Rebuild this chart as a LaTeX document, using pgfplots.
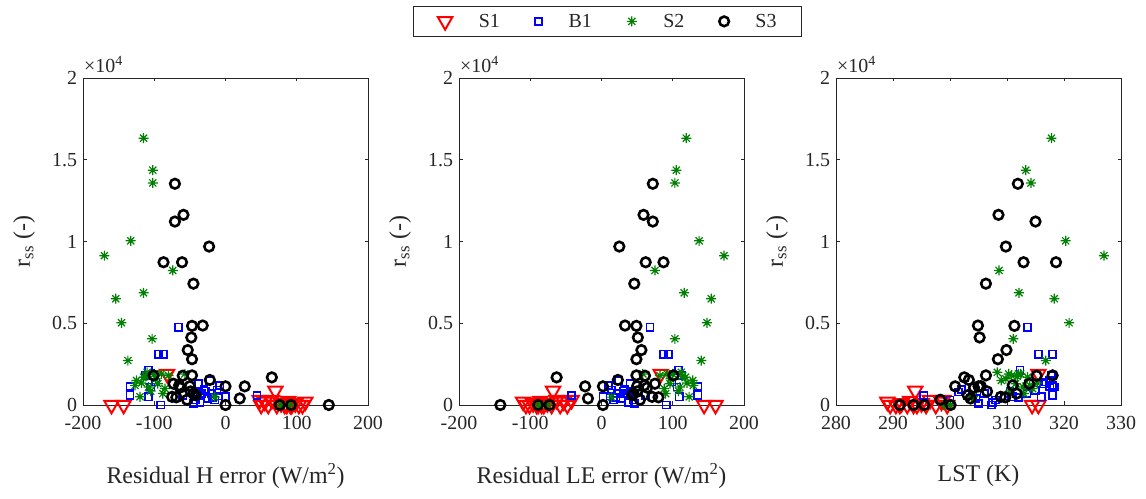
\documentclass[border=0pt]{standalone}
\usepackage{pgfplots}
\pgfplotsset{compat=1.18}
\usepackage{pgfplotstable}
\usepackage{fontspec}
\setmainfont{Liberation Serif}
\definecolor{axgray}{RGB}{38,38,38}
\definecolor{mgreen}{RGB}{0,128,0}

\pgfdeclareplotmark{mstar}{%
  \pgfpathmoveto{\pgfqpoint{-\pgfplotmarksize}{0pt}}\pgfpathlineto{\pgfqpoint{\pgfplotmarksize}{0pt}}%
  \pgfpathmoveto{\pgfqpoint{0pt}{-\pgfplotmarksize}}\pgfpathlineto{\pgfqpoint{0pt}{\pgfplotmarksize}}%
  \pgfpathmoveto{\pgfqpoint{-0.7071\pgfplotmarksize}{-0.7071\pgfplotmarksize}}\pgfpathlineto{\pgfqpoint{0.7071\pgfplotmarksize}{0.7071\pgfplotmarksize}}%
  \pgfpathmoveto{\pgfqpoint{-0.7071\pgfplotmarksize}{0.7071\pgfplotmarksize}}\pgfpathlineto{\pgfqpoint{0.7071\pgfplotmarksize}{-0.7071\pgfplotmarksize}}%
  \pgfusepathqstroke}

% columns: H error, LE error, LST, r_ss
\pgfplotstableread{
H LE LST rss
-160 144 314.4 0
-143 160 315.5 0
-82 83 315.5 1900
70 -68 293.9 870
50 -48 299.5 0
55 -53 298.5 200
60 -58 297.5 0
65 -63 296.5 300
72 -70 295.8 0
78 -76 295.0 100
83 -81 294.2 0
88 -86 293.0 250
93 -91 292.5 0
98 -96 291.5 100
103 -101 290.5 0
108 -106 289.5 0
112 -110 289.0 200
86 -84 291.2 0
91 -89 293.6 0
48 -42 298.8 300
}\tSone

\pgfplotstableread{
H LE LST rss
-66 68 313.6 4760
-94 87 315.5 3100
-87 94 318.0 3100
-108 108 312.3 2120
-134 135 317.5 1130
-134 135 318.0 600
-108 109 316.0 500
-91 91 307.3 0
44 -42 295.4 580
-40 42 301.5 800
-35 37 303.0 600
-30 32 302.0 950
-25 27 304.5 400
-20 22 306.0 700
-15 17 308.0 300
-10 12 309.5 550
-42 44 300.0 300
-28 30 310.5 850
-18 20 312.0 450
-33 35 313.5 700
-12 14 315.0 900
-38 40 316.5 1300
-22 24 317.5 1500
-8 10 318.0 1200
-112 113 317.8 1800
-98 99 316.8 1400
-105 106 318.3 1100
-45 46 305.0 100
-36 38 307.5 150
0 2 311.0 500
-60 62 304.0 600
}\tBone

\pgfplotstableread{
H LE LST rss
-115 119 317.8 16320
-102 105 313.3 14360
-102 103 314.2 13580
-133 137 320.3 10040
-170 172 327.0 9130
-74 75 308.6 8230
-115 116 312.1 6860
-154 154 318.3 6500
-146 148 320.9 5030
-103 103 311.1 4050
-137 140 316.8 2720
-120 123 304.0 500
-15 14 303.8 480
-57 58 312.0 1900
-110 112 308.3 2000
-100 100 310.3 1900
-90 92 312.4 1900
-115 118 313.6 1700
-105 108 310.5 850
-95 96 311.5 1300
-125 128 309.0 1500
-85 88 314.5 1000
-108 110 312.8 1100
-118 120 315.3 1350
-98 97 309.8 1600
-88 90 313.0 700
-112 113 311.8 1750
-80 82 310.8 1800
-127 129 314.0 1200
78 -76 299.0 0
90 -88 300.0 0
}\tStwo

\pgfplotstableread{
H LE LST rss
-71 72 311.9 13530
-59 59 308.5 11630
-71 72 315.0 11220
-23 25 309.8 9690
-87 87 318.6 8730
-61 62 312.9 8730
-45 46 306.3 7420
-47 49 311.3 4840
-32 33 304.9 4860
-48 51 305.2 4130
-53 56 309.9 3360
-47 49 308.4 2800
-47 49 306.3 1810
-101 101 318.0 1810
65 -63 302.5 1690
-22 23 303.3 1530
0 2 300.9 1140
27 -23 305.0 1140
20 -19 303.6 400
0 2 300.1 0
76 -73 291.2 0
92 -89 293.6 0
145 -142 295.5 0
-73 75 313.9 1300
-64 64 304.2 1060
-50 50 305.4 1150
-49 50 306.5 830
-75 71 308.9 500
-69 80 309.7 470
-54 54 298.3 320
-42 43 303.1 600
-60 61 315.2 1790
-65 60 311.0 1200
-45 45 311.7 700
}\tSthree

\pgfplotsset{
  rs/.style={
    scale only axis, width=285bp, height=327bp,
    ymin=0, ymax=20000, ytick={0,5000,10000,15000,20000},
    yticklabels={0,0.5,1,1.5,2}, scaled y ticks=false,
    tick align=inside, tick pos=both, major tick length=3.5bp,
    axis line style={axgray, line width=0.6bp},
    every tick/.style={axgray, line width=0.6bp},
    /pgf/number format/assume math mode=true,
    ticklabel style={font=\fontsize{20}{20}\selectfont, text=axgray},
    xticklabel style={yshift=-8bp},
    yticklabel style={xshift=-2.5bp},
    label style={font=\fontsize{24}{24}\selectfont, text=axgray},
    ylabel={r\textsubscript{ss} (-)},
    ylabel style={at={(axis description cs:-0.207,0.5)}, anchor=center},
    xlabel style={at={(axis description cs:0.5,0)}, anchor=center, yshift=-71bp},
    clip=false,
  },
  sS1/.style={only marks, mark=triangle, red, line width=2bp, mark size=8.3bp, mark options={rotate=180}},
  sB1/.style={only marks, mark=square, blue, line width=1.5bp, mark size=3.6bp},
  sS2/.style={only marks, mark=mstar, mgreen, line width=1.2bp, mark size=5bp},
  sS3/.style={only marks, mark=o, black, line width=2.6bp, mark size=4.8bp},
}

\begin{document}
\begin{tikzpicture}[x=1bp,y=1bp]
\useasboundingbox (0,0) rectangle (1146,499);

\begin{axis}[rs, at={(83bp,94bp)}, anchor=south west,
  xmin=-200, xmax=200, xtick={-200,-100,0,100,200},
  xlabel={Residual H error (W/m\textsuperscript{2})}]
\addplot[sS1] table[x=H, y=rss] {\tSone};
\addplot[sB1] table[x=H, y=rss] {\tBone};
\addplot[sS2] table[x=H, y=rss] {\tStwo};
\addplot[sS3] table[x=H, y=rss] {\tSthree};
\node[anchor=base west, font=\fontsize{20}{20}\selectfont, text=axgray, inner sep=0pt] at (rel axis cs:0,1) [xshift=1bp, yshift=5bp] {×10\textsuperscript{4}};
\end{axis}

\begin{axis}[rs, at={(459bp,94bp)}, anchor=south west,
  xmin=-200, xmax=200, xtick={-200,-100,0,100,200},
  xlabel={Residual LE error (W/m\textsuperscript{2})},
  legend columns=4,
  legend style={at={(axis description cs:0.52,1.125)}, anchor=south,
    draw=axgray, line width=0.8bp, font=\fontsize{20}{20}\selectfont, text=axgray,
    inner xsep=24.5bp, inner ysep=6bp,
    nodes={inner xsep=0bp, inner ysep=2bp},
    /tikz/every odd column/.append style={column sep=26.5bp},
    /tikz/every even column/.append style={column sep=35bp}},
  ]
\addplot[sS1] table[x=LE, y=rss] {\tSone};
\addplot[sB1] table[x=LE, y=rss] {\tBone};
\addplot[sS2] table[x=LE, y=rss] {\tStwo};
\addplot[sS3] table[x=LE, y=rss] {\tSthree};
\legend{S1,B1,S2,S3}
\node[anchor=base west, font=\fontsize{20}{20}\selectfont, text=axgray, inner sep=0pt] at (rel axis cs:0,1) [xshift=1bp, yshift=5bp] {×10\textsuperscript{4}};
\end{axis}

\begin{axis}[rs, at={(836bp,94bp)}, anchor=south west,
  xmin=280, xmax=330, xtick={280,290,300,310,320,330},
  xlabel={LST (K)}]
\addplot[sS1] table[x=LST, y=rss] {\tSone};
\addplot[sB1] table[x=LST, y=rss] {\tBone};
\addplot[sS2] table[x=LST, y=rss] {\tStwo};
\addplot[sS3] table[x=LST, y=rss] {\tSthree};
\node[anchor=base west, font=\fontsize{20}{20}\selectfont, text=axgray, inner sep=0pt] at (rel axis cs:0,1) [xshift=1bp, yshift=5bp] {×10\textsuperscript{4}};
\end{axis}
\end{tikzpicture}
\end{document}
